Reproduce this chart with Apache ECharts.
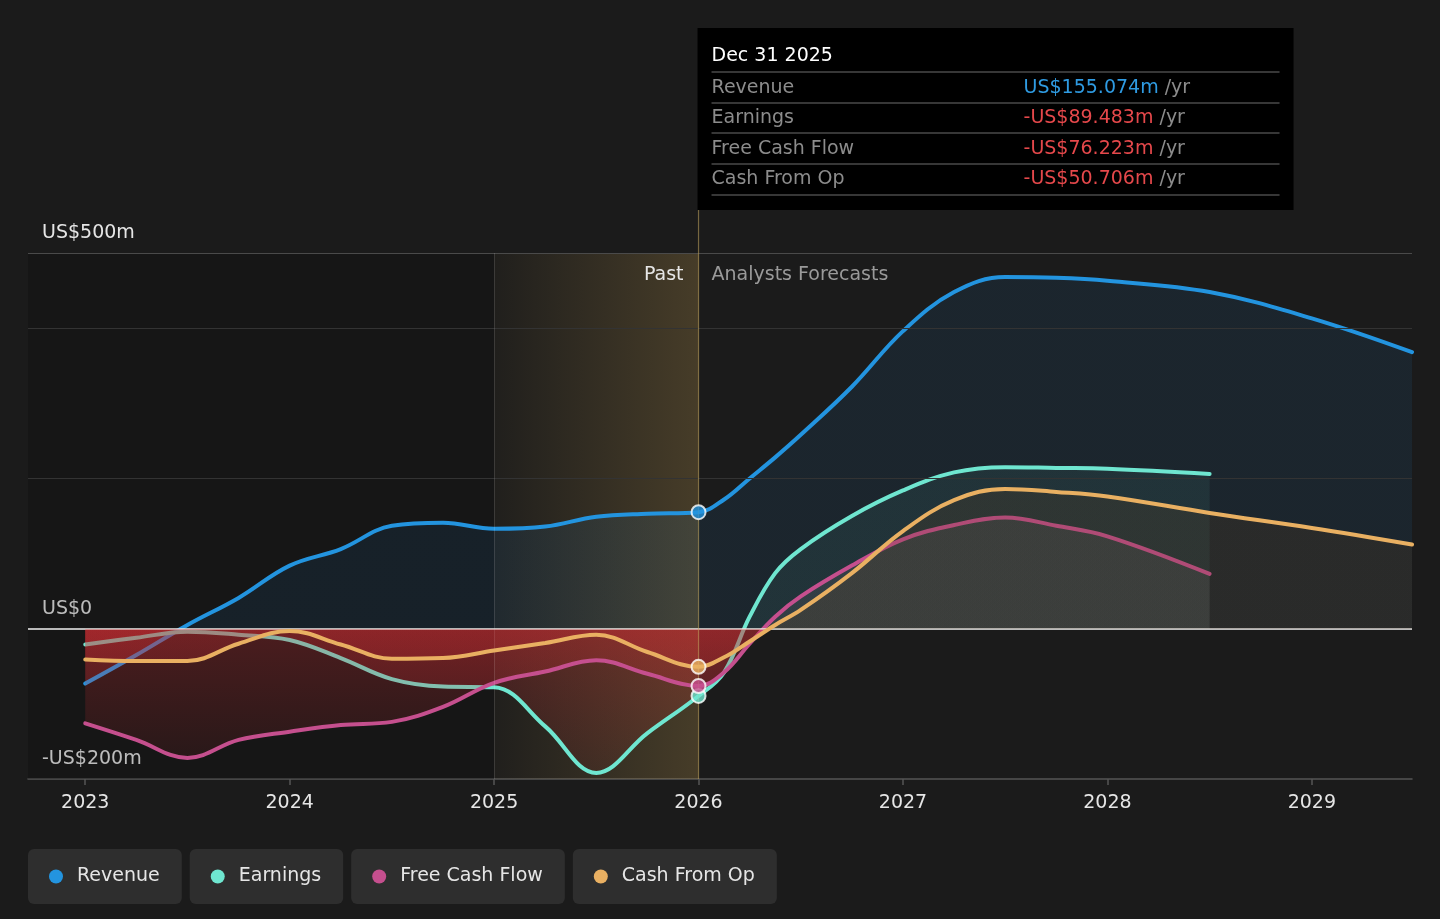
<!DOCTYPE html>
<html>
<head>
<meta charset="utf-8">
<script src="https://cdn.jsdelivr.net/npm/echarts@6/dist/echarts.min.js"></script>
<style>
html,body{margin:0;padding:0;background:#1b1b1b;}
#c{width:1440px;height:919px;}
</style>
</head>
<body>
<div id="c"></div>
<script>
// ---------- data ----------
const pastYears = [2023, 2023.25, 2023.5, 2023.75, 2024, 2024.25, 2024.5, 2024.75, 2025, 2025.25, 2025.5, 2025.75, 2026];
const forecastYears = [2026.125, 2026.25, 2026.375, 2026.5, 2026.75, 2027, 2027.25, 2027.5, 2027.75, 2028, 2028.5, 2029, 2029.49];

const revenuePast = [-73, -35, 5, 41, 84, 106, 137, 141, 133, 136, 149, 153, 155.074];
const revenueForecast = [172, 200, 228, 258, 322, 396, 448, 468, 467, 463, 448, 413, 368];

const earningsPast = [-21, -12, -4, -8, -15, -39, -67, -77, -78, -130, -192, -139, -89.483];
const earningsForecast = [-58, 16, 74, 106, 150, 184, 208, 215, 214, 213, 206];

const fcfPast = [-126, -148, -172, -148, -137, -128, -124, -104, -72, -57, -42, -60, -76.223];
const fcfForecast = [-58, -20, 16, 43, 84, 119, 138, 148, 137, 123, 73];

const cfoPast = [-41, -43, -43, -20, -3, -21, -40, -39, -29, -19, -8, -31, -50.706];
const cfoForecast = [-38, -17, 5, 25, 74, 130, 171, 186, 182, 176, 154, 134, 112];

const seriesNames = ['Revenue', 'Earnings', 'Free Cash Flow', 'Cash From Op'];
const xTickYears = [2023, 2024, 2025, 2026, 2027, 2028, 2029];
const yTickLabels = [-200, 0, 500];
const yGridValues = [500, 400, 200];
const xMin = 2022.72, xMax = 2029.49, yMin = -200, yMax = 500;
const pastStart = 2025, splitYear = 2026;

const tooltipDate = 'Dec 31 2025';
const tooltipLabels = ['Revenue', 'Earnings', 'Free Cash Flow', 'Cash From Op'];
const tooltipValues = ['US$155.074m', '-US$89.483m', '-US$76.223m', '-US$50.706m'];

// ---------- styles ----------
const FONT = "'DejaVu Sans', sans-serif";
const colors = ['#2394df', '#6fe6d0', '#c54f8e', '#e9b062'];
const posFill = ['rgba(33,150,243,0.12)', 'rgba(110,230,207,0.10)', 'rgba(170,140,150,0.18)', 'rgba(95,62,28,0.30)'];
const SMOOTH = 0.38;

const pairs = (xs, ys) => ys.map((y, i) => [xs[i], y]);
const full = (past, fc) => pairs(pastYears, past).concat(pairs(forecastYears, fc));
const fullData = [
  full(revenuePast, revenueForecast),
  full(earningsPast, earningsForecast),
  full(fcfPast, fcfForecast),
  full(cfoPast, cfoForecast)
];
const lastPast = [revenuePast, earningsPast, fcfPast, cfoPast].map(a => a[a.length - 1]);

function fmtY(v) {
  if (v === 0) return 'US$0';
  return (v < 0 ? '-US$' : 'US$') + Math.abs(v) + 'm';
}

const chart = echarts.init(document.getElementById('c'));

const legendRich = { sp: { width: 14 }, t: { color: '#e6e6e6', fontSize: 19, fontFamily: FONT, lineHeight: 21 } };
colors.forEach((c, i) => {
  legendRich['d' + i] = { width: 14, height: 14, borderRadius: 7, backgroundColor: c };
});

const lineSeries = fullData.map((d, i) => ({
  id: 'line' + i,
  name: seriesNames[i],
  type: 'line',
  data: d,
  smooth: SMOOTH,
  symbol: 'none',
  silent: true,
  z: 2 + i,
  lineStyle: { width: 4, color: colors[i], cap: 'round' },
  itemStyle: { color: colors[i] },
  areaStyle: { color: posFill[i] }
}));

const option = {
  backgroundColor: '#1b1b1b',
  animation: false,
  grid: { left: 28, right: 28, top: 253, bottom: 140 },
  xAxis: {
    type: 'value', min: xMin, max: xMax,
    axisLine: { show: true, onZero: false, lineStyle: { color: '#555', width: 1.5 } },
    axisTick: { show: true, customValues: xTickYears, length: 6, lineStyle: { color: '#555', width: 1.5 } },
    axisLabel: { customValues: xTickYears, color: '#e6e6e6', fontSize: 19, fontFamily: FONT, margin: 15, formatter: v => String(v) },
    splitLine: { show: false }
  },
  yAxis: {
    type: 'value', min: yMin, max: yMax,
    axisLine: { show: false }, axisTick: { show: false }, splitLine: { show: false },
    axisLabel: {
      inside: true, customValues: yTickLabels, formatter: fmtY,
      color: '#e6e6e6', fontSize: 19, fontFamily: FONT,
      verticalAlign: 'bottom', margin: 14, lineHeight: 19, padding: [0, 0, 10, 0]
    }
  },
  legend: {
    data: seriesNames,
    left: 23, top: 849, padding: 0,
    itemGap: 3, itemWidth: 0, itemHeight: 0, icon: 'circle',
    selectedMode: false,
    formatter: name => '{d' + seriesNames.indexOf(name) + '|}{sp|}{t|' + name + '}',
    textStyle: {
      backgroundColor: '#2e2e2e', borderRadius: 6, padding: [17, 22, 17, 21],
      color: '#e6e6e6', fontSize: 19, fontFamily: FONT, rich: legendRich
    }
  },
  series: [
    {
      id: 'bg', type: 'line', data: fullData[0], silent: true, z: 0,
      symbol: 'none', lineStyle: { opacity: 0, width: 0 },
      markArea: {
        silent: true,
        itemStyle: { color: 'rgba(0,0,0,0.18)' },
        data: [[{ coord: [xMin, yMax] }, { coord: [pastStart, yMin] }]]
      },
      markLine: {
        silent: true, symbol: 'none', label: { show: false },
        lineStyle: { color: '#333', width: 1, type: 'solid' },
        data: yGridValues.map(v => ({ yAxis: v, lineStyle: { color: v === yMax ? '#4a4a4a' : '#333', width: 1, type: 'solid' } }))
      }
    },
    {
      id: 'zero', type: 'line', data: fullData[0], silent: true, z: 1,
      symbol: 'none', lineStyle: { opacity: 0, width: 0 },
      markLine: {
        silent: true, symbol: 'none', label: { show: false },
        data: [{ yAxis: 0, lineStyle: { color: '#f2f2f2', width: 1.5, type: 'solid' } }]
      }
    },
    ...lineSeries,
    {
      id: 'highlight', type: 'line', data: fullData[0], silent: true, z: 8,
      symbol: 'none', lineStyle: { opacity: 0, width: 0 },
      markArea: {
        silent: true,
        itemStyle: {
          color: new echarts.graphic.LinearGradient(0, 0, 1, 0, [
            { offset: 0, color: 'rgba(200,160,80,0.03)' },
            { offset: 1, color: 'rgba(200,160,80,0.25)' }
          ])
        },
        data: [[{ coord: [pastStart, yMax] }, { coord: [splitYear, yMin] }]]
      },
      markLine: {
        silent: true, symbol: 'none', label: { show: false },
        data: [{ xAxis: pastStart, lineStyle: { color: 'rgba(255,255,255,0.13)', width: 1, type: 'solid' } }]
      }
    },
    {
      id: 'points', type: 'scatter', z: 10, silent: true,
      symbolSize: 14,
      data: [1, 3, 2, 0].map(i => ({
        value: [splitYear, lastPast[i]],
        itemStyle: { color: colors[i], borderColor: '#ffffff', borderWidth: 2 }
      }))
    }
  ]
};

chart.setOption(option);

// ---------- second pass: pixel-anchored decorations ----------
const px = v => chart.convertToPixel({ xAxisIndex: 0 }, v);
const py = v => chart.convertToPixel({ yAxisIndex: 0 }, v);
const yTop = py(yMax), yBot = py(yMin), yZero = py(0);
const zf = (yZero - yTop) / (yBot - yTop);

const areaUpdates = posFill.map((c, i) => ({
  id: 'line' + i,
  areaStyle: {
    color: {
      type: 'linear', x: 0, y: yTop, x2: 0, y2: yBot, global: true,
      colorStops: [
        { offset: 0, color: c },
        { offset: zf, color: c },
        { offset: Math.min(1, zf + 0.0005), color: 'rgba(205,45,50,0.42)' },
        { offset: 1, color: 'rgba(205,45,50,0.10)' }
      ]
    }
  }
}));

const xs = px(splitYear);
const tipLeft = xs - 1, tipTop = 28, tipW = 596, tipH = 182;
const rowY = [88, 118, 149, 179];
const sepY = [72, 103, 133, 164, 195];

const graphics = [
  { type: 'line', z: 9, silent: true, shape: { x1: xs, y1: tipTop + tipH, x2: xs, y2: yBot }, style: { stroke: 'rgba(195,165,95,0.55)', lineWidth: 1.2 } },
  { type: 'text', z: 9, silent: true, x: xs - 15, y: 275, style: { text: 'Past', fill: '#e6e6e6', fontSize: 19, fontFamily: FONT, align: 'right', verticalAlign: 'middle' } },
  { type: 'text', z: 9, silent: true, x: xs + 13, y: 275, style: { text: 'Analysts Forecasts', fill: '#9a9a9a', fontSize: 19, fontFamily: FONT, align: 'left', verticalAlign: 'middle' } },
  { type: 'rect', z: 20, silent: true, shape: { x: tipLeft, y: tipTop, width: tipW, height: tipH }, style: { fill: '#000000' } },
  { type: 'text', z: 21, silent: true, x: xs + 13, y: 56, style: { text: tooltipDate, fill: '#ffffff', fontSize: 19, fontFamily: FONT, align: 'left', verticalAlign: 'middle' } }
];
sepY.forEach(y => graphics.push({ type: 'line', z: 21, silent: true, shape: { x1: xs + 13, y1: y, x2: xs + 581, y2: y }, style: { stroke: '#4a4a4a', lineWidth: 1.5 } }));
tooltipLabels.forEach((lab, i) => {
  graphics.push({ type: 'text', z: 21, silent: true, x: xs + 13, y: rowY[i], style: { text: lab, fill: '#8c8c8c', fontSize: 19, fontFamily: FONT, align: 'left', verticalAlign: 'middle' } });
  const vc = i === 0 ? '#2f9be2' : '#e5484b';
  graphics.push({
    type: 'text', z: 21, silent: true, x: xs + 325, y: rowY[i],
    style: {
      text: '{v|' + tooltipValues[i] + '}{u| /yr}', fontSize: 19, fontFamily: FONT, align: 'left', verticalAlign: 'middle',
      rich: { v: { fill: vc, fontSize: 19, fontFamily: FONT }, u: { fill: '#8c8c8c', fontSize: 19, fontFamily: FONT } }
    }
  });
});

chart.setOption({ series: areaUpdates, graphic: graphics });
</script>
</body>
</html>
